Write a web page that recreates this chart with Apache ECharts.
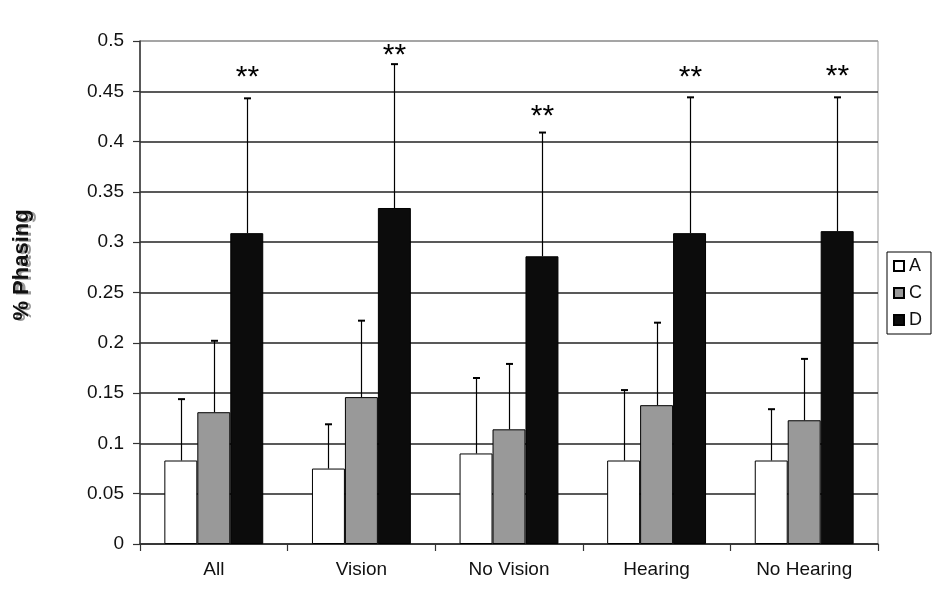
<!DOCTYPE html>
<html><head><meta charset="utf-8">
<script src="https://cdn.jsdelivr.net/npm/echarts@6/dist/echarts.min.js"></script>
<style>html,body{margin:0;padding:0;background:#fff}#c{width:941px;height:608px}</style>
</head><body><div id="c"></div>
<script>
const categories = ['All', 'Vision', 'No Vision', 'Hearing', 'No Hearing'];
const seriesNames = ['A', 'C', 'D'];
const valuesA = [0.083, 0.075, 0.090, 0.083, 0.083];
const valuesC = [0.131, 0.146, 0.114, 0.138, 0.123];
const valuesD = [0.309, 0.334, 0.286, 0.309, 0.311];
const errTopA = [0.144, 0.119, 0.165, 0.153, 0.134];
const errTopC = [0.202, 0.222, 0.179, 0.220, 0.184];
const errTopD = [0.443, 0.477, 0.409, 0.444, 0.444];
const sigMarkY = [0.468, 0.490, 0.430, 0.468, 0.469];
const sigMarkText = '**';
const yMin = 0, yMax = 0.5, yStep = 0.05;
const yAxisTitle = '% Phasing';

const FONT = "'Liberation Sans', Arial, sans-serif";
const barColors = ['#ffffff', '#999999', '#0c0c0c'];
const allValues = [valuesA, valuesC, valuesD];
const allErr = [errTopA, errTopC, errTopD];
const CAT_GAP = 0.33;

const chart = echarts.init(document.getElementById('c'), null, {renderer: 'canvas'});

function errSeries(idx) {
  return {
    type: 'custom',
    name: 'err' + idx,
    z: 5,
    silent: true,
    data: categories.map((c, i) => idx === 2 ? [i, allValues[idx][i], allErr[idx][i], sigMarkY[i]] : [i, allValues[idx][i], allErr[idx][i]]),
    encode: {x: 0, y: [1, 2]},
    renderItem: function (params, api) {
      const cat = api.value(0);
      const band = api.size([1, 0])[0];
      const bw = band * (1 - CAT_GAP) / 3;
      const base = api.coord([cat, api.value(1)]);
      const top = api.coord([cat, api.value(2)]);
      const x = Math.round(base[0] + (idx - 1) * bw) + 0.5;
      const children = [
        {type: 'line', shape: {x1: x, y1: base[1], x2: x, y2: top[1]}, style: {stroke: '#000', lineWidth: 1.2}},
        {type: 'line', shape: {x1: x - 3.5, y1: top[1], x2: x + 3.5, y2: top[1]}, style: {stroke: '#000', lineWidth: 2}}
      ];
      if (idx === 2) {
        const s = api.coord([cat, api.value(3)]);
        children.push({type: 'text', style: {text: sigMarkText, x: x, y: s[1] + 5, textAlign: 'center', textVerticalAlign: 'middle', align: 'center', verticalAlign: 'middle', font: "30px " + FONT, fill: '#000'}});
      }
      return {type: 'group', children: children};
    }
  };
}

const splitColors = [];
for (let v = yMin; v <= yMax + 1e-9; v += yStep) splitColors.push('#222');
splitColors[splitColors.length - 1] = '#999';

const option = {
  animation: false,
  backgroundColor: '#fff',
  grid: {left: 140, right: 63, top: 41, bottom: 64, show: true, borderColor: '#999', borderWidth: 1, backgroundColor: 'transparent'},
  legend: {
    orient: 'vertical', left: 887, top: 252,
    data: seriesNames,
    icon: 'rect',
    borderColor: '#000', borderWidth: 1, borderRadius: 0,
    padding: [5, 9, 5, 6],
    itemWidth: 10, itemHeight: 10, itemGap: 9,
    textStyle: {fontFamily: FONT, fontSize: 18, color: '#111', lineHeight: 16},
    selectedMode: false
  },
  graphic: [{
    type: 'text', x: 22, y: 265, rotation: Math.PI / 2, silent: true,
    style: {text: yAxisTitle, font: "bold 22px " + FONT, fill: '#111', align: 'center', verticalAlign: 'middle', textAlign: 'center', textVerticalAlign: 'middle',
      shadowColor: 'rgba(150,150,150,0.95)', shadowOffsetX: 3, shadowOffsetY: 1, shadowBlur: 0.5,
      textShadowColor: 'rgba(150,150,150,0.95)', textShadowOffsetX: 3, textShadowOffsetY: 1, textShadowBlur: 0.5}
  }],
  xAxis: {
    type: 'category', data: categories, boundaryGap: true,
    axisLine: {show: true, lineStyle: {color: '#333', width: 1.5}},
    axisTick: {show: true, length: 7, alignWithLabel: false, lineStyle: {color: '#333', width: 1.2}},
    axisLabel: {fontFamily: FONT, fontSize: 19, color: '#111', margin: 16},
    splitLine: {show: false}
  },
  yAxis: {
    type: 'value', min: yMin, max: yMax, interval: yStep,
    axisLine: {show: true, lineStyle: {color: '#333', width: 1.5}},
    axisTick: {show: true, length: 7, lineStyle: {color: '#333', width: 1.2}},
    axisLabel: {fontFamily: FONT, fontSize: 19, color: '#111', margin: 16, formatter: v => String(+v.toFixed(2))},
    splitLine: {show: true, lineStyle: {color: splitColors, width: 1.5}}
  },
  series: seriesNames.map((n, i) => ({
    type: 'bar', name: n, data: allValues[i],
    barGap: '0%', barCategoryGap: (CAT_GAP * 100) + '%',
    itemStyle: {color: barColors[i], borderColor: '#000', borderWidth: 1},
    z: 3
  })).concat([errSeries(0), errSeries(1), errSeries(2)])
};
chart.setOption(option);
</script></body></html>
